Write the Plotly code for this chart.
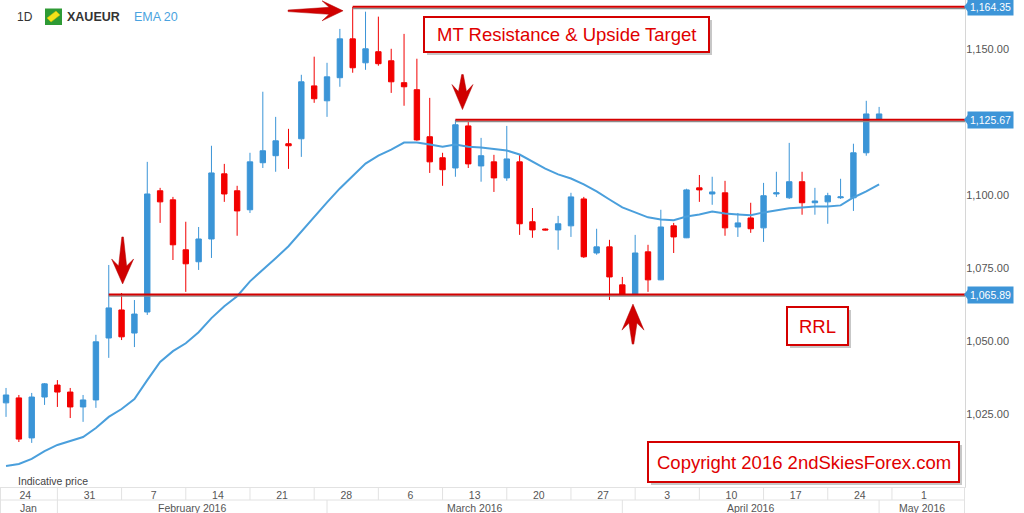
import pandas as pd
import plotly.graph_objects as go

# ---------------- data ----------------
dates = pd.bdate_range("2016-01-26", "2016-04-29")  # daily candles (weekdays)

open_ = [1028.8, 1030.5, 1016.8, 1030.8, 1034.9, 1032.5, 1027.4, 1029.8, 1051.0, 1060.6,
         1052.7, 1059.9, 1101.4, 1098.3, 1081.2, 1077.1, 1084.9, 1107.2, 1101.4, 1094.9,
         1111.0, 1113.4, 1117.5, 1119.2, 1137.3, 1132.2, 1140.1, 1153.4, 1145.2, 1149.0,
         1145.9, 1138.4, 1136.0, 1119.9, 1112.7, 1109.2, 1123.6, 1109.9, 1111.3, 1105.8,
         1111.3, 1090.8, 1088.3, 1088.0, 1089.4, 1098.6, 1080.1, 1082.2, 1069.2, 1065.9,
         1080.5, 1070.9, 1089.4, 1085.3, 1102.4, 1100.3, 1100.7, 1089.0, 1092.1, 1088.7,
         1100.3, 1099.0, 1104.5, 1097.3, 1097.6, 1099.0, 1099.0, 1114.4, 1126.0]
high = [1033.9, 1031.5, 1032.2, 1035.6, 1036.6, 1033.9, 1031.5, 1052.1, 1076.0, 1066.4,
        1064.0, 1111.3, 1102.4, 1099.3, 1090.8, 1089.0, 1116.8, 1110.6, 1103.1, 1114.4,
        1135.3, 1126.7, 1122.6, 1141.1, 1147.3, 1145.2, 1156.8, 1164.35, 1162.7, 1161.0,
        1150.0, 1155.1, 1146.6, 1133.2, 1114.4, 1125.7, 1125.3, 1119.5, 1113.7, 1123.6,
        1113.7, 1095.5, 1088.5, 1092.8, 1100.7, 1099.3, 1088.4, 1084.6, 1071.9, 1086.3,
        1082.9, 1094.9, 1090.4, 1102.1, 1106.8, 1106.2, 1104.8, 1093.8, 1097.3, 1104.1,
        1107.9, 1117.8, 1107.9, 1102.4, 1100.7, 1105.5, 1117.5, 1132.2, 1130.1]
low = [1024.0, 1015.4, 1015.1, 1028.1, 1027.4, 1023.6, 1022.3, 1027.1, 1044.2, 1050.3,
       1047.9, 1058.9, 1090.4, 1077.7, 1066.8, 1074.3, 1078.4, 1097.6, 1086.0, 1093.8,
       1109.2, 1107.9, 1108.9, 1113.0, 1131.5, 1126.7, 1137.0, 1141.8, 1142.8, 1144.2,
       1134.9, 1130.5, 1118.5, 1107.5, 1103.1, 1106.2, 1109.2, 1104.5, 1101.0, 1104.8,
       1086.3, 1085.3, 1087.8, 1081.2, 1085.6, 1078.4, 1079.5, 1064.0, 1065.8, 1065.8,
       1066.8, 1070.8, 1080.1, 1085.2, 1097.6, 1096.6, 1086.0, 1085.6, 1087.0, 1083.9,
       1099.3, 1098.6, 1093.2, 1093.2, 1090.1, 1098.6, 1094.5, 1113.4, 1125.7]
close = [1031.5, 1016.4, 1030.8, 1035.3, 1032.5, 1027.4, 1029.8, 1049.7, 1061.3, 1051.4,
         1059.2, 1100.3, 1097.6, 1082.9, 1076.4, 1084.9, 1107.5, 1100.3, 1094.5, 1111.3,
         1115.1, 1118.5, 1116.8, 1138.7, 1132.9, 1140.4, 1153.4, 1143.5, 1150.0, 1144.9,
         1138.7, 1137.0, 1118.8, 1111.3, 1108.6, 1124.0, 1110.6, 1113.4, 1105.8, 1112.3,
         1090.1, 1088.0, 1088.0, 1090.1, 1099.3, 1078.8, 1082.2, 1071.9, 1065.9, 1080.1,
         1070.9, 1089.0, 1085.6, 1101.7, 1101.7, 1101.0, 1088.7, 1090.4, 1088.4, 1099.7,
         1100.7, 1104.5, 1097.3, 1097.9, 1099.7, 1099.3, 1114.4, 1127.7, 1127.7]
ema20 = [1007.2, 1007.9, 1009.6, 1012.3, 1014.4, 1015.8, 1017.1, 1020.2, 1024.0, 1026.7,
         1030.1, 1036.6, 1042.8, 1046.5, 1049.2, 1053.0, 1057.8, 1061.9, 1065.3, 1070.4,
         1074.2, 1078.3, 1082.4, 1087.5, 1092.6, 1097.4, 1102.2, 1106.6, 1110.7, 1113.4,
         1115.5, 1117.9, 1117.9, 1117.2, 1116.5, 1117.2, 1116.5, 1116.2, 1115.8, 1115.2,
         1113.8, 1111.4, 1109.0, 1107.0, 1105.6, 1103.6, 1101.2, 1098.4, 1095.7, 1094.0,
         1092.3, 1091.6, 1091.3, 1092.6, 1093.3, 1094.3, 1093.6, 1093.3, 1093.0, 1094.0,
         1094.7, 1095.4, 1095.7, 1096.0, 1096.0, 1096.4, 1099.1, 1101.2, 1103.6]

levels = [1164.35, 1125.67, 1065.89]
level_from = ["2016-03-03", "2016-03-15", "2016-02-05"]
y_ticks = [1025, 1050, 1075, 1100, 1150]
month_starts = ["2016-02-01", "2016-03-01", "2016-04-01", "2016-05-01"]
month_labels = ["Jan", "February 2016", "March 2016", "April 2016", "May 2016"]

# ---------------- geometry / style ----------------
W, H = 1024, 513
MR, MB = 59, 26
PW, PH = W - MR, H - MB
X0, X1 = -0.47, 74.69
Y0, Y1 = 1000.0, 1166.7
PXX = PW / (X1 - X0)
PXY = PH / (Y1 - Y0)
BLUE = "#3b95d7"
RED = "#f20000"
DRED = "#d40000"
GRID = "#e2e2e2"
FONT = "Liberation Sans, Arial, sans-serif"

x = list(range(len(dates)))
pos_of = {d.strftime("%Y-%m-%d"): i for i, d in enumerate(dates)}

# extended calendar (for the week / month rows below the chart)
cal = pd.bdate_range("2016-01-25", "2016-05-06")
cal_idx = {d: i - 1 for i, d in enumerate(cal)}
week_starts = [d for d in cal if d.weekday() == 0]
week_pos = [cal_idx[d] for d in week_starts]
week_tickvals = [p + 2.5 for p in week_pos]
week_ticktext = [str((d - pd.Timedelta(days=1)).day) for d in week_starts]


def month_pos(s):
    m = pd.Timestamp(s)
    p = sum(1 for d in cal if d < m) - 1
    if m.weekday() >= 5:
        p -= 1
    return p


mb = [month_pos(s) for s in month_starts]
month_edges = [X0] + mb + [X1]


def xpap(i):
    return (i - X0) / (X1 - X0)


def ypx(py):
    return 1 - py / PH


fig = go.Figure()
fig.add_trace(go.Candlestick(
    x=x, open=open_, high=high, low=low, close=close,
    increasing=dict(line=dict(color=BLUE, width=1), fillcolor=BLUE),
    decreasing=dict(line=dict(color=RED, width=1), fillcolor=RED),
    whiskerwidth=0, showlegend=False,
    text=[d.strftime("%Y-%m-%d") for d in dates], hoverinfo="text+y"))
fig.add_trace(go.Scatter(x=x, y=ema20, mode="lines", line=dict(color="#4a9fdc", width=2),
                         showlegend=False, hoverinfo="skip"))

shapes = []
annotations = []

# resistance / support levels
for lv, start in zip(levels, level_from):
    x_start = pos_of[start]
    shapes.append(dict(type="line", xref="x", yref="y", x0=x_start, x1=X1,
                       y0=lv - 0.55, y1=lv - 0.55, line=dict(color="#8a8a8a", width=1.5),
                       layer="above"))
    shapes.append(dict(type="line", xref="x", yref="y", x0=x_start, x1=X1,
                       y0=lv, y1=lv, line=dict(color=DRED, width=2), layer="above"))
    # price badge on right axis
    annotations.append(dict(xref="paper", yref="y", x=1, y=lv, xanchor="left", yanchor="middle",
                            xshift=2, text=f"{lv:,.2f}", showarrow=False, bgcolor="#3d95d8",
                            borderpad=2, font=dict(color="white", size=10.5, family=FONT)))
    hh = 5 / PXY
    shapes.append(dict(type="path", xref="paper", yref="y",
                       path=f"M {964/PW},{lv} L {968/PW},{lv+hh} L {968/PW},{lv-hh} Z",
                       fillcolor="#3d95d8", line=dict(width=0)))


def arrow(tip_x, tip_y, direction, L, hl, hw, sw):
    local = [(0, 0), (hl + 3, hw), (hl - 4, sw), (L, 0.8), (L, -0.8), (hl - 4, -sw), (hl + 3, -hw)]
    pts = []
    for u, v in local:
        if direction == "down":
            pts.append((tip_x + v / PXX, tip_y + u / PXY))
        elif direction == "up":
            pts.append((tip_x + v / PXX, tip_y - u / PXY))
        else:  # right
            pts.append((tip_x - u / PXX, tip_y + v / PXY))
    path = "M " + " L ".join(f"{a:.4f},{b:.4f}" for a, b in pts) + " Z"
    return dict(type="path", xref="x", yref="y", path=path, fillcolor="#d00000",
                line=dict(color="#b00000", width=0.5), layer="above")


shapes.append(arrow(26.25, 1163.0, "right", 55, 18, 10, 3.5))
shapes.append(arrow(9.08, 1069.5, "down", 47, 22, 11, 4))
shapes.append(arrow(35.55, 1129.2, "down", 35, 22, 10.5, 4))
shapes.append(arrow(48.83, 1062.6, "up", 40, 23, 11, 4))

# annotation boxes (pixel placement)
boxes = [
    ("MT Resistance & Upside Target", 424, 17, 709, 52),
    ("RRL", 787, 307, 848, 345),
    ("Copyright 2016 2ndSkiesForex.com", 648, 442, 959, 482),
]
for txt, bx0, by0, bx1, by1 in boxes:
    shapes.append(dict(type="rect", xref="paper", yref="paper",
                       x0=(bx0 + 3) / PW, x1=(bx1 + 3) / PW, y0=ypx(by1 + 3), y1=ypx(by0 + 3),
                       fillcolor="rgba(0,0,0,0.22)", line=dict(width=0), layer="above"))
    shapes.append(dict(type="rect", xref="paper", yref="paper",
                       x0=bx0 / PW, x1=bx1 / PW, y0=ypx(by1), y1=ypx(by0),
                       fillcolor="white", line=dict(color=DRED, width=2), layer="above"))
    annotations.append(dict(xref="paper", yref="paper", x=(bx0 + bx1) / 2 / PW,
                            y=ypx((by0 + by1) / 2), text=txt, showarrow=False,
                            xanchor="center", yanchor="middle",
                            font=dict(color="#e00000", size=18.5, family=FONT)))

# header legend
annotations.append(dict(xref="paper", yref="paper", x=15 / PW, y=ypx(17), xanchor="left",
                        yanchor="middle", text="1D", showarrow=False,
                        font=dict(size=12, color="#333", family=FONT)))
shapes.append(dict(type="rect", xref="paper", yref="paper", x0=45 / PW, x1=62 / PW,
                   y0=ypx(25), y1=ypx(8.5), fillcolor="#2e9a35", line=dict(width=0)))
shapes.append(dict(type="path", xref="paper", yref="paper",
                   path=f"M {47/PW},{ypx(18)} L {56/PW},{ypx(11)} L {60/PW},{ypx(15)} "
                        f"L {51/PW},{ypx(22)} Z",
                   fillcolor="#f3e21a", line=dict(color="#c9b800", width=0.5)))
annotations.append(dict(xref="paper", yref="paper", x=65 / PW, y=ypx(17), xanchor="left",
                        yanchor="middle", text="<b>XAUEUR</b>", showarrow=False,
                        font=dict(size=12.5, color="#333", family=FONT)))
annotations.append(dict(xref="paper", yref="paper", x=132 / PW, y=ypx(17), xanchor="left",
                        yanchor="middle", text="EMA 20", showarrow=False,
                        font=dict(size=12.5, color="#4aa3e0", family=FONT)))
annotations.append(dict(xref="paper", yref="paper", x=16 / PW, y=ypx(481), xanchor="left",
                        yanchor="middle", text="Indicative price", showarrow=False,
                        font=dict(size=10.5, color="#444", family=FONT)))

# week / month rows under the plot
row1 = ypx(500)
row2 = ypx(513)
for p in week_pos:
    if X0 < p < X1:
        shapes.append(dict(type="line", xref="paper", yref="paper", x0=xpap(p), x1=xpap(p),
                           y0=row1, y1=0, line=dict(color=GRID, width=1)))
for p in mb:
    shapes.append(dict(type="line", xref="paper", yref="paper", x0=xpap(p), x1=xpap(p),
                       y0=row2, y1=row1, line=dict(color=GRID, width=1)))
shapes.append(dict(type="line", xref="paper", yref="paper", x0=0, x1=1, y0=row1, y1=row1,
                   line=dict(color=GRID, width=1)))
for p in [0.5 / PW, 1 - 0.5 / PW]:
    shapes.append(dict(type="line", xref="paper", yref="paper", x0=p, x1=p, y0=row2, y1=0,
                       line=dict(color=GRID, width=1)))
for lab, a, b in zip(month_labels, month_edges[:-1], month_edges[1:]):
    annotations.append(dict(xref="x", yref="paper", x=(a + b) / 2, y=ypx(507.5), text=lab,
                            showarrow=False, xanchor="center", yanchor="middle",
                            font=dict(size=10.5, color="#555", family=FONT)))

fig.update_layout(
    width=W, height=H, margin=dict(l=0, r=MR, t=0, b=MB),
    paper_bgcolor="white", plot_bgcolor="white",
    font=dict(family=FONT), boxgap=0.4, showlegend=False,
    xaxis=dict(range=[X0, X1], showgrid=False, zeroline=False, showline=True,
               linecolor=GRID, linewidth=1, tickvals=week_tickvals, ticktext=week_ticktext,
               ticks="", tickfont=dict(size=10.5, color="#555"), rangeslider=dict(visible=False),
               ticklabelstandoff=-2),
    yaxis=dict(range=[Y0, Y1], side="right", showgrid=False, zeroline=False, showline=True,
               mirror=True, linecolor="#d6d6d6", tickvals=y_ticks, tickformat=",.2f",
               ticks="", tickfont=dict(size=11, color="#555"), ticklabelstandoff=-2),
    shapes=shapes, annotations=annotations,
)

fig.write_html("out.html", config={"displayModeBar": False},
               post_script="document.body.style.margin='0px';"
                           "document.body.style.overflow='hidden';")
